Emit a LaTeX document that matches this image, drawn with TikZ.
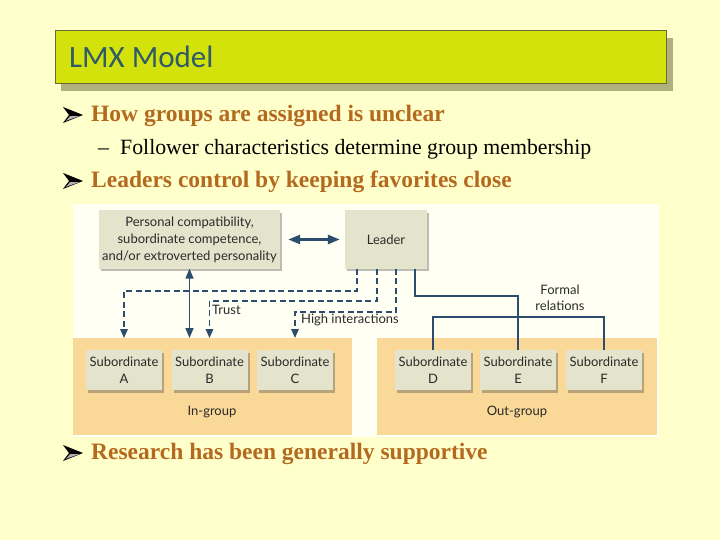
\documentclass[tikz,border=0pt]{standalone}
\usepackage{fontspec}
\setmainfont{Liberation Serif}
\newfontfamily\titlefont{Carlito}
\newfontfamily\diafont{Lato}
\usetikzlibrary{arrows.meta,shadows}
\definecolor{bg}{HTML}{FFFFCC}
\definecolor{titlefill}{HTML}{D4E20B}
\definecolor{titledraw}{HTML}{6A6A34}
\definecolor{titleshadow}{HTML}{AFAF80}
\definecolor{titletext}{HTML}{2F5A68}
\definecolor{bultext}{HTML}{B46A1E}
\definecolor{panel}{HTML}{FFFFF4}
\definecolor{grpfill}{HTML}{F9D898}
\definecolor{boxfill}{HTML}{E3E4CB}
\definecolor{linec}{HTML}{2C4D6D}
\definecolor{diatext}{HTML}{2A2A2A}
\tikzset{
  dbox/.style={fill=boxfill, draw=none, inner sep=0pt, align=center, text=diatext,
    font=\diafont\fontsize{13}{17}\selectfont,
    drop shadow={shadow xshift=2pt, shadow yshift=-2.5pt, opacity=0.35, fill=black!75}},
  subbox/.style={dbox, minimum width=76, minimum height=40},
  grp/.style={fill=grpfill, draw=none, inner sep=0pt, anchor=north west, minimum height=97},
  lbl/.style={text=diatext, inner sep=0pt, font=\diafont\fontsize{13}{16}\selectfont, align=center},
  conn/.style={draw=linec, line width=1.6pt},
  dconn/.style={conn, dash pattern=on 6pt off 3.5pt},
  arrowend/.style={-{Triangle[length=9pt,width=7.5pt]}},
  bigtext/.style={text=bultext, font=\fontsize{23.5}{28}\selectfont\bfseries, inner sep=0pt, anchor=base west},
  subtext/.style={text=black, font=\fontsize{21.8}{26}\selectfont, inner sep=0pt, anchor=base west},
  bulmark/.pic={\fill[black] (0,-8) -- (20,0) -- (0,8) -- (6,0) -- cycle;
                \fill[gray!60] (7,1.2) -- (16,1.2) -- (3,5.8) -- cycle;}
}
\begin{document}
\begin{tikzpicture}[x=1pt,y=-1pt]
\useasboundingbox (0,0) rectangle (720,540);
\fill[bg] (0,0) rectangle (720,540);
% title
\fill[titleshadow] (61,38) rectangle (673,91);
\node[fill=titlefill, draw=titledraw, line width=0.8pt, anchor=north west, minimum width=611, minimum height=53, inner sep=0pt] (titlebox) at (55,30) {};
\node[anchor=base west, inner sep=0pt, text=titletext, font=\titlefont\fontsize{31}{36}\selectfont] (title) at (69,68) {LMX Model};
% bullets
\pic at (63,115) {bulmark};
\node[bigtext] (b1) at (91,122) {How groups are assigned is unclear};
\node[subtext] (dash1) at (98,155) {–};
\node[subtext] (s1) at (120,155) {Follower characteristics determine group membership};
\pic at (63,181) {bulmark};
\node[bigtext] (b2) at (91,188) {Leaders control by keeping favorites close};
\pic at (63,453) {bulmark};
\node[bigtext] (b3) at (91,459) {Research has been generally supportive};
% diagram panel
\node[fill=panel, draw=none, anchor=north west, minimum width=586, minimum height=233, inner sep=0pt] (panel) at (73,204) {};
\node[grp, minimum width=279] (ing) at (73,338) {};
\node[grp, minimum width=280] (outg) at (377,338) {};
\node[lbl] (inlbl) at (212,412) {In-group};
\node[lbl] (outlbl) at (517,412) {Out-group};
% top boxes
\node[dbox, minimum width=181, minimum height=58] (pc) at (189.5,239.5) {Personal compatibility,\\subordinate competence,\\and/or extroverted personality};
\node[dbox, minimum width=82, minimum height=58] (leader) at (386,239.5) {Leader};
% subordinates
\node[subbox] (subA) at (124,370) {Subordinate\\A};
\node[subbox] (subB) at (209.5,370) {Subordinate\\B};
\node[subbox] (subC) at (295,370) {Subordinate\\C};
\node[subbox] (subD) at (433,370) {Subordinate\\D};
\node[subbox] (subE) at (518,370) {Subordinate\\E};
\node[subbox] (subF) at (604,370) {Subordinate\\F};
% connectors
\draw[conn, line width=2.6pt, {Triangle[length=12pt,width=9pt]}-{Triangle[length=12pt,width=9pt]}] ([xshift=8pt]pc.east) -- ([xshift=-5pt]leader.west);
\draw[conn, {Triangle[length=10pt,width=8pt]}-{Triangle[length=10pt,width=8pt]}] (pc.south) -- (pc.south |- ing.north);
\draw[dconn, arrowend] ([xshift=-29pt]leader.south) -- ++(0,22) -| (subA.north |- ing.north);
\draw[dconn, arrowend] ([xshift=-9pt]leader.south) -- ++(0,32) -| (subB.north |- ing.north);
\draw[dconn, arrowend] ([xshift=10pt]leader.south) -- ++(0,43) -| (subC.north |- ing.north);
\draw[conn] ([xshift=29pt]leader.south) -- ++(0,27) -| (subE.north);
\draw[conn] (subD.north) -- ++(0,-33) -| (subF.north);
% labels
\node[lbl, anchor=west] (trust) at (212,310) {Trust};
\node[lbl, anchor=west] (hi) at (301,320) {High interactions};
\node[lbl] (formal) at (560,298) {Formal\\relations};
\end{tikzpicture}
\end{document}
